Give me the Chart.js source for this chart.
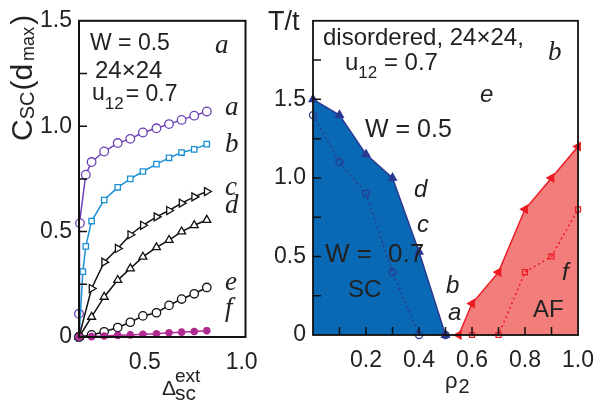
<!DOCTYPE html>
<html>
<head>
<meta charset="utf-8">
<script src="https://cdn.jsdelivr.net/npm/chart.js@4.4.0/dist/chart.umd.min.js"></script>
<style>
  html, body { margin: 0; padding: 0; background: #fff; }
  #wrap { position: relative; width: 606px; height: 407px; overflow: hidden; }
  canvas { position: absolute; top: 0; }
  #left { left: 0; }
  #right { left: 260px; }
</style>
</head>
<body>
<div id="wrap">
  <canvas id="left" width="270" height="407"></canvas>
  <canvas id="right" width="346" height="407"></canvas>
</div>
<script>
// ---- panel (a): C_SC(d_max) vs external pairing field ----
const deltaA = [0.16, 0.16, 0.165, 0.195, 0.225, 0.29, 0.36, 0.425, 0.49, 0.56, 0.625, 0.69, 0.755, 0.82];
const csA    = [0, 0.11, 0.54, 0.77, 0.83, 0.88, 0.92, 0.94, 0.97, 0.99, 1.01, 1.03, 1.05, 1.07];
const deltaB = [0.16, 0.18, 0.195, 0.225, 0.29, 0.36, 0.425, 0.49, 0.56, 0.625, 0.69, 0.755, 0.82];
const csB    = [0, 0.31, 0.43, 0.55, 0.65, 0.71, 0.75, 0.785, 0.82, 0.85, 0.875, 0.89, 0.915];
const deltaGrid = [0.16, 0.225, 0.29, 0.36, 0.425, 0.49, 0.56, 0.625, 0.69, 0.755, 0.82];
const csC = [0, 0.23, 0.355, 0.42, 0.485, 0.53, 0.57, 0.60, 0.635, 0.665, 0.69];
const csD = [0, 0.095, 0.19, 0.27, 0.325, 0.38, 0.425, 0.46, 0.50, 0.53, 0.555];
const csE = [0, 0.01, 0.025, 0.045, 0.07, 0.10, 0.115, 0.15, 0.18, 0.205, 0.235];
const csF = [0, 0.002, 0.005, 0.008, 0.01, 0.013, 0.015, 0.02, 0.023, 0.026, 0.03];
const leftXTicks = [0.5, 1.0];
const leftYTicks = [0, 0.5, 1.0, 1.5];

// ---- panel (b): phase diagram T/t vs rho_2 ----
const rhoSC05 = [0, 0.1, 0.2, 0.3, 0.4, 0.5];
const tSC05   = [1.5, 1.4, 1.15, 1.0, 0.53, 0];
const rhoSC07 = [0, 0.1, 0.2, 0.3, 0.4, 0.5];
const tSC07   = [1.4, 1.1, 0.9, 0.4, 0, 0];
const rhoAF05 = [0.55, 0.6, 0.7, 0.8, 0.9, 1.0];
const tAF05   = [0, 0.2, 0.4, 0.8, 1.0, 1.2];
const rhoAF07 = [0.6, 0.7, 0.8, 0.9, 1.0];
const tAF07   = [0, 0, 0.4, 0.5, 0.8];
const rightXTicks = [0.2, 0.4, 0.6, 0.8, 1.0];
const rightYTicks = [0, 0.5, 1.0, 1.5];

const pts = (xs, ys) => xs.map((x, i) => ({ x, y: ys[i] }));
const sans = (size, style = '') => `${style} ${size}px "Liberation Sans", Arial, sans-serif`;
const serif = (size) => `italic ${size}px "Liberation Serif", "Times New Roman", serif`;
const fmt = v => v === 0 ? '0' : v.toFixed(1);
const INK = '#222';

// box around the plot area plus short inward ticks
const frame = {
  id: 'frame',
  afterDatasetsDraw(chart, args, opts) {
    const { ctx, chartArea: a } = chart;
    ctx.save();
    ctx.strokeStyle = '#111';
    ctx.lineWidth = opts.width || 2;
    ctx.strokeRect(a.left, a.top, a.right - a.left, a.bottom - a.top);
    ctx.lineWidth = 1.5;
    ctx.beginPath();
    (opts.yTicks || []).forEach(v => {
      const y = chart.scales.y.getPixelForValue(v);
      ctx.moveTo(a.left, y); ctx.lineTo(a.left + 8, y);
    });
    (opts.xTicks || []).forEach(v => {
      const x = chart.scales.x.getPixelForValue(v);
      ctx.moveTo(x, a.bottom); ctx.lineTo(x, a.bottom - 8);
    });
    ctx.stroke();
    ctx.restore();
  }
};

// text runs with sub/superscripts, optionally rotated
const notes = {
  id: 'notes',
  afterDraw(chart, args, opts) {
    const ctx = chart.ctx;
    (opts.items || []).forEach(it => {
      ctx.save();
      ctx.fillStyle = it.color || INK;
      ctx.textBaseline = 'alphabetic';
      ctx.translate(it.x, it.y);
      if (it.rot) ctx.rotate(it.rot);
      let cx = 0;
      it.parts.forEach(p => {
        ctx.font = p.font;
        ctx.fillText(p.t, cx + (p.dx || 0), p.dy || 0);
        cx += (p.dx || 0) + ctx.measureText(p.t).width;
      });
      ctx.restore();
    });
  }
};

function line(data, color, style, extra) {
  return Object.assign({
    data, showLine: true, borderColor: color, borderWidth: 1.5, tension: 0,
    pointStyle: style, pointRadius: 4.5, pointBorderColor: color,
    pointBackgroundColor: '#fff', pointBorderWidth: 1.3, clip: false, fill: false
  }, extra || {});
}

function axes(xMin, xMax, xTicks, yMax, yTicks, yWidth, xHeight) {
  return {
    x: {
      type: 'linear', min: xMin, max: xMax,
      grid: { display: false, drawTicks: false }, border: { display: false },
      ticks: { font: { family: '"Liberation Sans", Arial, sans-serif', size: 23 }, color: INK, padding: 12, callback: fmt, maxRotation: 0 },
      afterBuildTicks: s => { s.ticks = xTicks.map(value => ({ value })); },
      afterFit: s => { s.height = xHeight; }
    },
    y: {
      type: 'linear', min: 0, max: yMax,
      grid: { display: false, drawTicks: false }, border: { display: false },
      ticks: { font: { family: '"Liberation Sans", Arial, sans-serif', size: 23 }, color: INK, padding: 7, callback: fmt },
      afterBuildTicks: s => { s.ticks = yTicks.map(value => ({ value })); },
      afterFit: s => { s.width = yWidth; }
    }
  };
}

new Chart(document.getElementById('left'), {
  type: 'scatter',
  data: {
    datasets: [
      line(pts(deltaGrid, csF), '#b02a92', 'star', { pointRadius: 3.8, pointBorderWidth: 2.5, pointBackgroundColor: '#b02a92' }),
      line(pts(deltaGrid, csE), '#111', 'circle', { pointRadius: 4.2 }),
      line(pts(deltaGrid, csD), '#111', 'triangle', { pointRadius: 4.6 }),
      line(pts(deltaGrid, csC), '#111', 'triangle', { pointRadius: 4.6, pointRotation: 90 }),
      line(pts(deltaB, csB), '#1b8fd4', 'rect', { pointRadius: 3.8 }),
      line(pts(deltaA, csA), '#6c40b5', 'circle', { pointRadius: 4.3 })
    ]
  },
  options: {
    responsive: false, animation: false, devicePixelRatio: 1,
    layout: { padding: { left: 0, right: 16, top: 16, bottom: 0 } },
    scales: axes(0.16, 1.02, leftXTicks, 1.5, leftYTicks, 79, 70),
    plugins: {
      legend: { display: false }, tooltip: { enabled: false },
      frame: { yTicks: [0.25, 0.5, 0.75, 1.0, 1.25] },
      notes: {
        items: [
          { x: 32, y: 141, rot: -Math.PI / 2, parts: [
            { t: 'C', font: sans(30) }, { t: 'SC', font: sans(20), dy: 2 },
            { t: '(d', font: sans(30), dx: 1 }, { t: 'max', font: sans(18), dy: 2, dx: 3 },
            { t: ')', font: sans(30), dx: 2 } ] },
          { x: 162, y: 395, parts: [{ t: 'Δ', font: sans(21) }] },
          { x: 175, y: 382, parts: [{ t: 'ext', font: sans(19) }] },
          { x: 175, y: 400, parts: [{ t: 'sc', font: sans(21) }] },
          { x: 90, y: 50, parts: [{ t: 'W = 0.5', font: sans(23) }] },
          { x: 95, y: 78, parts: [{ t: '24×24', font: sans(24) }] },
          { x: 92, y: 100, parts: [{ t: 'u', font: sans(23) }, { t: '12', font: sans(17), dy: 9 }, { t: '= 0.7', font: sans(23), dx: 2, dy: 1 }] },
          { x: 215, y: 53, parts: [{ t: 'a', font: serif(27) }] },
          { x: 225, y: 115, parts: [{ t: 'a', font: serif(27) }] },
          { x: 225, y: 152, parts: [{ t: 'b', font: serif(27) }] },
          { x: 225, y: 195, parts: [{ t: 'c', font: serif(27) }] },
          { x: 225, y: 213, parts: [{ t: 'd', font: serif(27) }] },
          { x: 225, y: 290, parts: [{ t: 'e', font: serif(27) }] },
          { x: 225, y: 316, parts: [{ t: 'f', font: serif(27) }] }
        ]
      }
    }
  },
  plugins: [frame, notes]
});

new Chart(document.getElementById('right'), {
  type: 'scatter',
  data: {
    datasets: [
      line(pts(rhoSC07, tSC07), '#2b3990', 'circle', { pointRadius: 3.5, borderDash: [2, 3], pointBackgroundColor: 'rgba(0,0,0,0)' }),
      line(pts(rhoAF07, tAF07), '#ec1c24', 'rect', { pointRadius: 3.5, borderDash: [2, 3], pointBackgroundColor: 'rgba(0,0,0,0)' }),
      line(pts(rhoSC05, tSC05), '#2b3990', 'triangle', { pointRadius: 4.5, pointBackgroundColor: '#2b3990', fill: 'origin', backgroundColor: '#0a69b4' }),
      line(pts(rhoAF05, tAF05), '#ec1c24', 'triangle', { pointRadius: 4.5, pointRotation: -90, pointBackgroundColor: '#ec1c24', fill: 'origin', backgroundColor: '#f27d7b' })
    ]
  },
  options: {
    responsive: false, animation: false, devicePixelRatio: 1,
    layout: { padding: { left: 0, right: 23, top: 18, bottom: 0 } },
    scales: axes(0, 1.0, rightXTicks, 2.0, rightYTicks, 53, 72),
    plugins: {
      legend: { display: false }, tooltip: { enabled: false },
      frame: { width: 1.8, yTicks: [0.25, 0.5, 0.75, 1.0, 1.25, 1.5, 1.75], xTicks: [0.1, 0.2, 0.3, 0.4, 0.5, 0.6, 0.7, 0.8, 0.9] },
      notes: {
        items: [
          { x: 8, y: 30, parts: [{ t: 'T/t', font: sans(27) }] },
          { x: 63, y: 45, parts: [{ t: 'disordered, 24×24,', font: sans(24) }] },
          { x: 85, y: 70, parts: [{ t: 'u', font: sans(24) }, { t: '12', font: sans(17), dy: 8 }, { t: ' = 0.7', font: sans(24) }] },
          { x: 288, y: 60, parts: [{ t: 'b', font: serif(27) }] },
          { x: 220, y: 102, parts: [{ t: 'e', font: sans(24, 'italic') }] },
          { x: 105, y: 137, parts: [{ t: 'W = 0.5', font: sans(25) }] },
          { x: 154, y: 197, parts: [{ t: 'd', font: sans(24, 'italic') }] },
          { x: 157, y: 232, parts: [{ t: 'c', font: sans(24, 'italic') }] },
          { x: 65, y: 262, parts: [{ t: 'W =', font: sans(26) }] },
          { x: 128, y: 262, parts: [{ t: '0.7', font: sans(26) }] },
          { x: 88, y: 297, parts: [{ t: 'SC', font: sans(24) }] },
          { x: 186, y: 293, parts: [{ t: 'b', font: sans(24, 'italic') }] },
          { x: 188, y: 320, parts: [{ t: 'a', font: sans(24, 'italic') }] },
          { x: 302, y: 280, parts: [{ t: 'f', font: sans(24, 'italic') }] },
          { x: 273, y: 317, parts: [{ t: 'AF', font: sans(24) }] },
          { x: 185, y: 388, parts: [{ t: 'ρ', font: sans(22) }, { t: '2', font: sans(20), dy: 5, dx: 1 }] }
        ]
      }
    }
  },
  plugins: [frame, notes]
});
</script>
</body>
</html>
